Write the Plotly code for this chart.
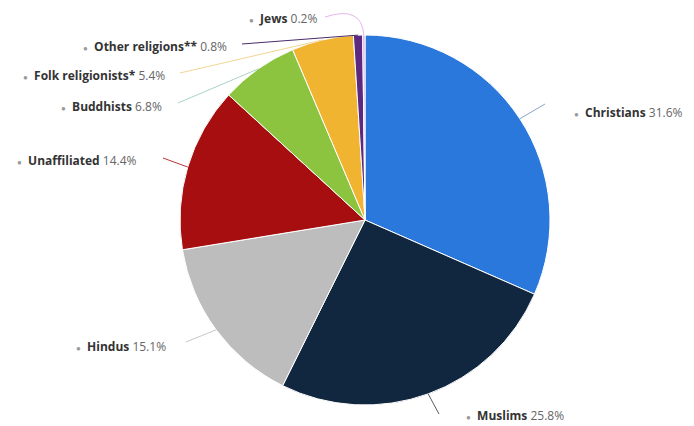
import math
import plotly.graph_objects as go

# Religious composition of the world population (share in %)
religions = ["Christians", "Muslims", "Hindus", "Unaffiliated", "Buddhists",
             "Folk religionists*", "Other religions**", "Jews"]
shares = [31.6, 25.8, 15.1, 14.4, 6.8, 5.4, 0.8, 0.2]
share_labels = ["31.6%", "25.8%", "15.1%", "14.4%", "6.8%", "5.4%", "0.8%", "0.2%"]

colors = ["#2b78dc", "#11263f", "#bdbdbd", "#a60e0f", "#8cc43f",
          "#f0b430", "#5b2a80", "#e2a4e6"]
connector_colors = ["#8aa6c8", "#555e68", "#c8c8c8", "#b5383a", "#a9d3c0",
                    "#f3d592", "#4b2a6a", "#e6b5ea"]

W, H = 694, 426
CX, CY, R = 365, 220, 185

# label placement (pixel layout): x of text anchor, y centre, side, connector outer point
label_layout = [
    (572, 112, "left", (545, 104)),
    (464, 415, "left", (439, 414)),
    (168, 346, "right", (186, 342)),
    (139, 160, "right", (163, 158)),
    (164, 106, "right", (178, 103)),
    (167, 75, "right", (180, 73)),
    (229, 46, "right", (242, 44)),
    (319, 18, "right", (325, 17)),
]

fig = go.Figure()

# empty cartesian layer in pixel units for connectors and labels
fig.add_trace(go.Scatter(x=[], y=[], showlegend=False, hoverinfo="skip"))

fig.add_trace(go.Pie(
    labels=religions,
    values=shares,
    sort=False,
    direction="clockwise",
    rotation=0,
    marker=dict(colors=colors, line=dict(color="#ffffff", width=1)),
    textinfo="none",
    hoverinfo="label+percent",
    showlegend=False,
    domain=dict(x=[(CX - R) / W, (CX + R) / W],
                y=[(H - CY - R) / H, (H - CY + R) / H]),
))

total = sum(shares)
cum = 0.0
shapes = []
annotations = []
for i, (name, val, pct) in enumerate(zip(religions, shares, share_labels)):
    mid = (cum + val / 2) / total * 2 * math.pi
    cum += val
    ex = CX + R * math.sin(mid)
    ey = CY - R * math.cos(mid)
    lx, ly, side, (px, py) = label_layout[i]
    if name == "Jews":
        path = f"M {px},{py} Q {ex - 2},{ey - 30} {ex},{ey}"
    else:
        path = f"M {px},{py} L {ex},{ey}"
    shapes.append(dict(type="path", xref="x", yref="y", path=path,
                       line=dict(color=connector_colors[i], width=1)))
    text = (f"<span style='color:#9a9a9a;font-size:8px'>\u25cf</span>  "
            f"<b>{name}</b> <span style='color:#666666'>{pct}</span>")
    annotations.append(dict(
        x=lx, y=ly, xref="x", yref="y", text=text, showarrow=False,
        xanchor=side, yanchor="middle",
        font=dict(family="Open Sans", size=12, color="#333333"),
    ))

fig.update_layout(
    width=W, height=H,
    margin=dict(l=0, r=0, t=0, b=0),
    paper_bgcolor="#ffffff",
    plot_bgcolor="#ffffff",
    xaxis=dict(range=[0, W], visible=False, fixedrange=True),
    yaxis=dict(range=[H, 0], visible=False, fixedrange=True),
    shapes=shapes,
    annotations=annotations,
    showlegend=False,
)

fig.write_html("out.html")
